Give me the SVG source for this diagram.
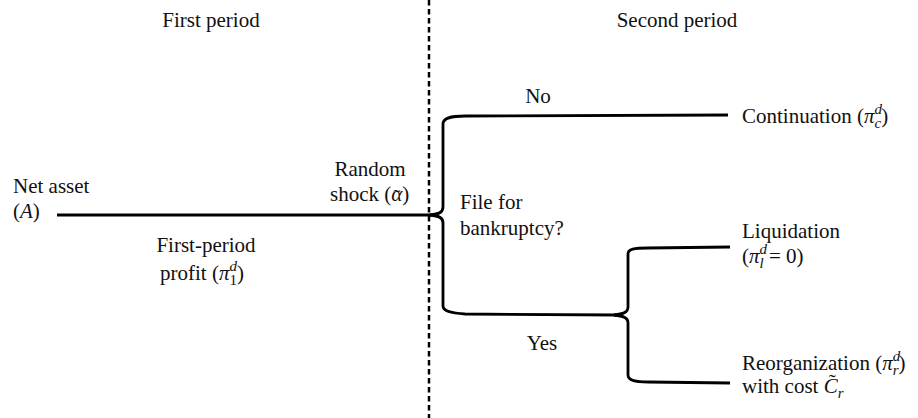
<svg xmlns="http://www.w3.org/2000/svg" width="918" height="418" viewBox="0 0 918 418" font-family="'Liberation Serif', 'Times New Roman', Tinos, 'DejaVu Serif', 'Noto Serif', serif">
  <style>
    text { font-family: "Liberation Serif", "Times New Roman", Tinos, "DejaVu Serif", "Noto Serif", serif; font-size: 21px; fill: #111; }
    .m { font-style: italic; }
    .s { font-size: 15px; }
    .mid { text-anchor: middle; }
    .br { fill: none; stroke: #000; stroke-width: 2.8; stroke-linecap: butt; stroke-linejoin: round; }
    .div { fill: none; stroke: #000; stroke-width: 2.5; stroke-dasharray: 5.5 3.5; }
  </style>
  <rect width="918" height="418" fill="#fff"/>

  <!-- period divider -->
  <line class="div" x1="429" y1="0" x2="429" y2="418"/>

  <g id="connectors">
    <!-- first period line -->
    <line class="br" x1="57" y1="215" x2="432" y2="215"/>
    <!-- bankruptcy decision brace -->
    <path class="br" d="M 430,215 C 438,214 443,213 443,207 L 443,124 C 443,118 450,116 465,116 L 728,115"/>
    <path class="br" d="M 430,215 C 438,216 443,217 443,223 L 443,306 C 443,311 450,313 465,314 L 617,315"/>
    <!-- liquidation / reorganization brace -->
    <path class="br" d="M 614,315 C 622,314 628,313 628,307 L 628,254 C 628,249 634,248 648,248 L 730,247"/>
    <path class="br" d="M 614,315 C 622,316 628,317 628,323 L 628,375 C 628,380 634,382 648,382 L 730,383"/>
  </g>

  <g id="period-labels">
    <text class="mid" x="211" y="27">First period</text>
    <text class="mid" x="677" y="27">Second period</text>
  </g>

  <g id="net-asset">
    <text x="13" y="193">Net asset</text>
    <text x="13" y="218">(<tspan class="m">A</tspan>)</text>
  </g>

  <g id="first-period-profit">
    <text class="mid" x="206" y="252">First-period</text>
    <text x="160" y="280">profit (<tspan class="m">π</tspan><tspan class="s m" dy="-9">d</tspan><tspan class="s" dx="-7.5" dy="14">1</tspan><tspan dy="-5">)</tspan></text>
  </g>

  <g id="random-shock">
    <text class="mid" x="370" y="176">Random</text>
    <text x="330" y="201">shock (<tspan class="m">α</tspan><tspan dx="-9" dy="3">˜</tspan><tspan dx="2" dy="-3">)</tspan></text>
  </g>

  <g id="file-for-bankruptcy">
    <text x="460" y="209">File for</text>
    <text x="460" y="235">bankruptcy?</text>
    <text class="mid" x="538" y="103">No</text>
    <text class="mid" x="542" y="350">Yes</text>
  </g>

  <g id="continuation">
    <text x="742" y="123">Continuation (<tspan class="m">π</tspan><tspan class="s m" dy="-9">d</tspan><tspan class="s m" dx="-7.5" dy="14">c</tspan><tspan dy="-5">)</tspan></text>
  </g>

  <g id="liquidation">
    <text x="742" y="238">Liquidation</text>
    <text x="742" y="263">(<tspan class="m">π</tspan><tspan class="s m" dy="-9">d</tspan><tspan class="s m" dx="-7.5" dy="14">l</tspan><tspan dy="-5"> = 0)</tspan></text>
  </g>

  <g id="reorganization">
    <text x="742" y="370">Reorganization (<tspan class="m">π</tspan><tspan class="s m" dy="-9">d</tspan><tspan class="s m" dx="-7.5" dy="14">r</tspan><tspan dy="-5">)</tspan></text>
    <text x="742" y="393">with cost <tspan class="m">C</tspan><tspan dx="-9" dy="-4">˜</tspan><tspan class="s m" dx="2" dy="9">r</tspan></text>
  </g>
</svg>
